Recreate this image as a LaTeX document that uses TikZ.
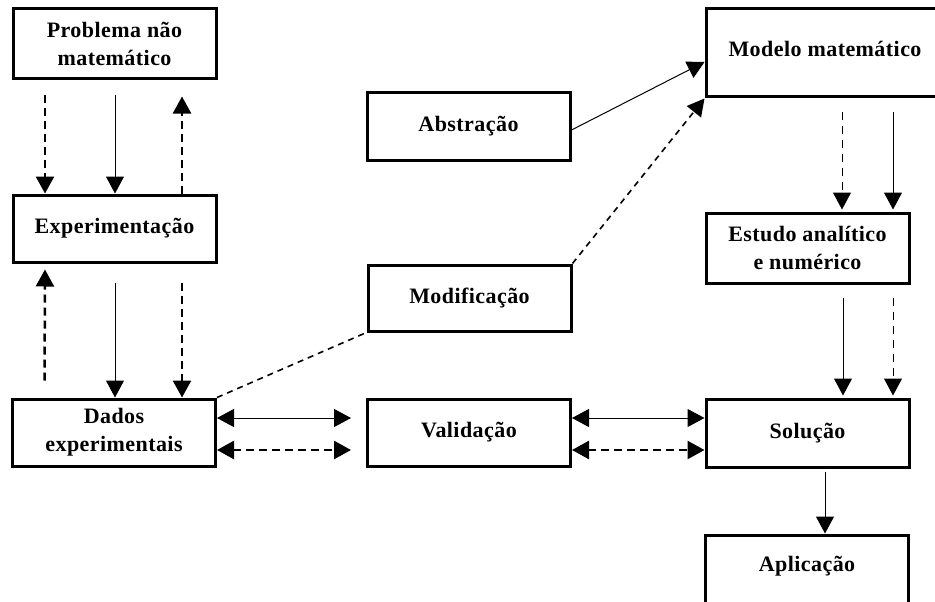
\documentclass[tikz,border=0pt]{standalone}
\usepackage{fontspec}
\setmainfont{Liberation Serif}[LetterSpace=2]
\usetikzlibrary{arrows.meta}
\tikzset{
  box/.style={draw, line width=3pt, align=center, inner sep=0pt,
    font=\bfseries\fontsize{22}{28}\selectfont},
  lbl/.style={font=\bfseries\fontsize{22}{28}\selectfont},
  tip/.style={-{Triangle[width=18pt,length=17pt]}},
  bitip/.style={{Triangle[width=18pt,length=17pt]}-{Triangle[width=18pt,length=17pt]}},
  sol/.style={line width=1pt},
  dsh/.style={line width=2.5pt, dash pattern=on 8pt off 5pt},
  thindsh/.style={line width=1pt, dash pattern=on 8pt off 6pt},
  diagdsh/.style={line width=1.6pt, dash pattern=on 6pt off 5pt},
}
\begin{document}
\begin{tikzpicture}[x=1pt,y=-1pt]
\path[use as bounding box, clip] (0,0) rectangle (935,602);
\fill[white] (0,0) rectangle (935,602);
% boxes
\node[box, minimum width=203pt, minimum height=70pt] (prob) at (114.5,44) {Problema não\\matemático};
\node[box, minimum width=203pt, minimum height=67pt] (exper) at (114.5,228.5) {Experimentação};
\node[box, minimum width=203pt, minimum height=67pt] (dados) at (114,432.5) {Dados\\experimentais};
\node[box, minimum width=203pt, minimum height=67pt] (valid) at (469,432.5) {Validação};
\node[box, minimum width=203pt, minimum height=68pt] (sol) at (807.5,433) {Solução};
\node[box, minimum width=203pt, minimum height=85pt] (aplic) at (807,577.5) {};
\node[lbl] (aplict) at (807,566) {Aplicação};
\node[box, minimum width=270pt, minimum height=88pt] (modelo) at (841,53) {};
\node[lbl] (modelot) at (825,49) {Modelo matemático};
\node[box, minimum width=203pt, minimum height=70pt] (estudo) at (807.5,248) {Estudo analítico\\e numérico};
\node[box, minimum width=203pt, minimum height=67pt] (abstr) at (468.5,126.5) {Abstração};
\node[box, minimum width=203pt, minimum height=66pt] (modif) at (469.5,298) {Modificação};
% Problema <-> Experimentacao
\draw[dsh, tip, shorten <=14.5pt] ([xshift=-69.5pt]prob.south) -- ([xshift=-69.5pt]exper.north);
\draw[sol, tip, shorten <=14.5pt] ([xshift=0.5pt]prob.south) -- ([xshift=0.5pt]exper.north);
\draw[dsh, tip, shorten >=16pt] ([xshift=67.5pt]exper.north) -- ([xshift=67.5pt]prob.south);
% Experimentacao <-> Dados
\draw[dsh, tip, shorten <=17pt, shorten >=6pt] ([xshift=-69.5pt]dados.north) -- ([xshift=-69.5pt]exper.south);
\draw[sol, tip, shorten <=19pt] ([xshift=0.5pt]exper.south) -- ([xshift=1pt]dados.north);
\draw[dsh, tip, shorten <=19pt] ([xshift=67.5pt]exper.south) -- ([xshift=68pt]dados.north);
% Dados <-> Validacao
\draw[sol, bitip, shorten >=15pt] ([yshift=14.5pt]dados.east) -- ([yshift=14.5pt]valid.west);
\draw[dsh, bitip, shorten >=15pt] ([yshift=-17.5pt]dados.east) -- ([yshift=-17.5pt]valid.west);
% Validacao <-> Solucao
\draw[sol, bitip] ([yshift=14.5pt]valid.east) -- ([yshift=15pt]sol.west);
\draw[dsh, bitip] ([yshift=-17.5pt]valid.east) -- ([yshift=-17pt]sol.west);
% Modelo -> Estudo
\draw[thindsh, tip, shorten <=13.5pt, shorten >=2pt] ([xshift=1pt]modelo.south) -- ([xshift=34.5pt]estudo.north);
\draw[sol, tip, shorten <=13.5pt, shorten >=2pt] ([xshift=52pt]modelo.south) -- ([xshift=85.5pt]estudo.north);
% Estudo -> Solucao
\draw[sol, tip, shorten <=13.5pt, shorten >=2pt] ([xshift=35.5pt]estudo.south) -- ([xshift=35.5pt]sol.north);
\draw[thindsh, tip, shorten <=13.5pt, shorten >=2pt] ([xshift=85.5pt]estudo.south) -- ([xshift=85.5pt]sol.north);
% Solucao -> Aplicacao
\draw[sol, tip, shorten <=3pt] ([xshift=17.5pt]sol.south) -- ([xshift=18pt]aplic.north);
% diagonals
\draw[sol, tip] ([yshift=-3.5pt]abstr.east) -- ([yshift=-9pt]modelo.west);
\draw[diagdsh, tip] (modif.north east) -- (modelo.south west);
\draw[diagdsh] (dados.north east) -- (modif.south west);
\end{tikzpicture}
\end{document}
